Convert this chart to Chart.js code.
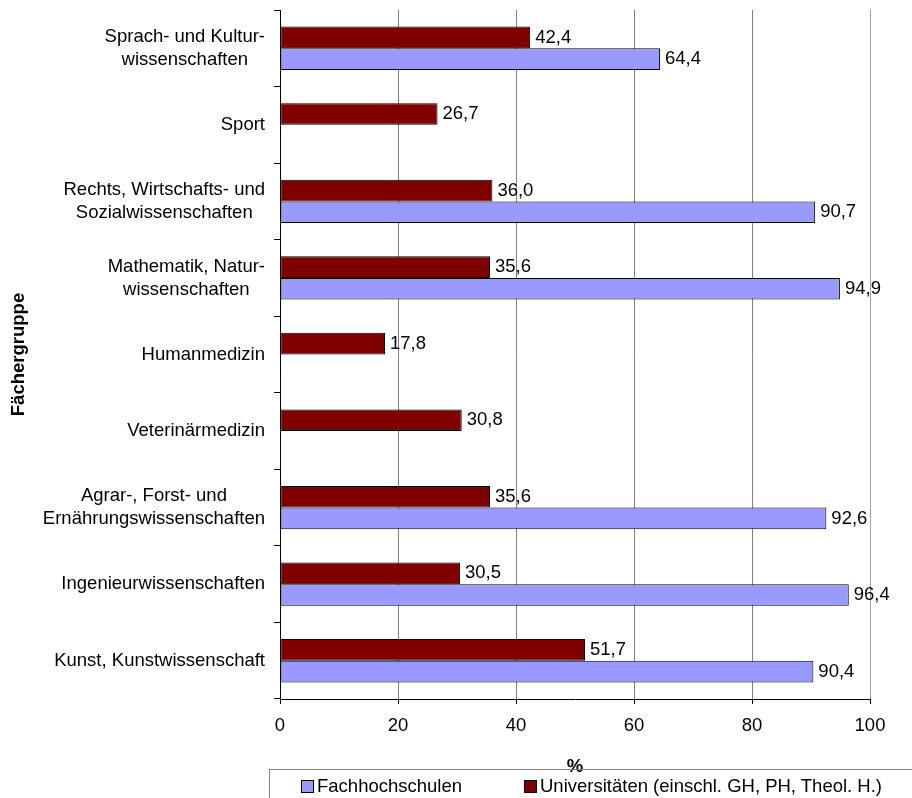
<!DOCTYPE html>
<html>
<head>
<meta charset="utf-8">
<script src="https://cdn.jsdelivr.net/npm/chart.js@4/dist/chart.umd.min.js"></script>
<style>
  html, body { margin: 0; padding: 0; background: #fff; overflow: hidden; }
  #wrap { position: relative; width: 912px; height: 798px; }
  #legend {
    position: absolute; left: 269px; top: 769px; width: 700px; height: 40px;
    border: 1px solid #808080; box-sizing: border-box;
    font: 18.5px "Liberation Sans", Arial, sans-serif; color: #000;
  }
  #legend .item { position: absolute; top: 6px; white-space: nowrap; line-height: 20px; }
  #legend .swatch {
    display: inline-block; width: 11px; height: 11px; border: 1px solid #000;
    vertical-align: -1px; margin-right: 3px;
  }
</style>
</head>
<body>
<div id="wrap">
  <canvas id="chart" width="912" height="798"></canvas>
  <div id="legend"></div>
</div>
<script>
const categories = [
  ["Sprach- und Kultur-", "wissenschaften"],
  ["Sport"],
  ["Rechts, Wirtschafts- und", "Sozialwissenschaften"],
  ["Mathematik, Natur-", "wissenschaften"],
  ["Humanmedizin"],
  ["Veterinärmedizin"],
  ["Agrar-, Forst- und", "Ernährungswissenschaften"],
  ["Ingenieurwissenschaften"],
  ["Kunst, Kunstwissenschaft"]
];
const universitaeten = [42.4, 26.7, 36.0, 35.6, 17.8, 30.8, 35.6, 30.5, 51.7];
const fachhochschulen = [64.4, null, 90.7, 94.9, null, null, 92.6, 96.4, 90.4];
const xTicks = [0, 20, 40, 60, 80, 100];

const FONT = '"Liberation Sans", Arial, sans-serif';
Chart.defaults.font.family = FONT;
Chart.defaults.font.size = 18.5;
Chart.defaults.color = "#000";

const fmt = (v) => v.toFixed(1).replace(".", ",");

const valueLabels = {
  id: "valueLabels",
  afterDatasetsDraw(chart) {
    const ctx = chart.ctx;
    ctx.save();
    ctx.font = "18.5px " + FONT;
    ctx.fillStyle = "#000";
    ctx.textAlign = "left";
    ctx.textBaseline = "middle";
    chart.data.datasets.forEach((ds, di) => {
      chart.getDatasetMeta(di).data.forEach((bar, i) => {
        const v = ds.data[i];
        if (v == null) return;
        ctx.fillText(fmt(v), bar.x + 5, bar.y);
      });
    });
    ctx.restore();
  }
};

// category labels: block right aligned, lines centred among themselves
const categoryLabels = {
  id: "categoryLabels",
  afterDraw(chart) {
    const ctx = chart.ctx;
    const y = chart.scales.y;
    ctx.save();
    ctx.font = "18.5px " + FONT;
    ctx.fillStyle = "#000";
    ctx.textAlign = "center";
    ctx.textBaseline = "middle";
    chart.data.labels.forEach((lines, i) => {
      const yc = y.getPixelForValue(i);
      const w = Math.max(...lines.map((l) => ctx.measureText(l).width));
      const cx = 265 - w / 2;
      lines.forEach((l, j) => {
        ctx.fillText(l, cx, yc + (j - (lines.length - 1) / 2) * 23);
      });
    });
    ctx.restore();
  }
};

new Chart(document.getElementById("chart"), {
  type: "bar",
  data: {
    labels: categories,
    datasets: [
      {
        label: "Universitäten (einschl. GH, PH, Theol. H.)",
        data: universitaeten,
        backgroundColor: "#800000",
        borderColor: "#000",
        borderWidth: 1,
        borderSkipped: false
      },
      {
        label: "Fachhochschulen",
        data: fachhochschulen,
        backgroundColor: "#9999ff",
        borderColor: "#000",
        borderWidth: 1,
        borderSkipped: false
      }
    ]
  },
  options: {
    indexAxis: "y",
    responsive: false,
    animation: false,
    categoryPercentage: 0.566,
    barPercentage: 1,
    layout: { padding: { top: 10, right: 42, left: 0, bottom: 16 } },
    plugins: {
      legend: { display: false },
      tooltip: { enabled: false }
    },
    scales: {
      x: {
        min: 0,
        max: 100,
        afterBuildTicks: (s) => { s.ticks = xTicks.map((v) => ({ value: v })); },
        afterFit: (s) => { s.height = 83; },
        ticks: { padding: 11, font: { size: 18.5 } },
        grid: {
          color: (c) => (c.tick && c.tick.value === 100 ? "#a0a0a0" : "#808080"),
          tickColor: "#000",
          tickLength: 5
        },
        border: { color: "#000" },
        title: {
          display: true,
          text: "%",
          font: { size: 18.5, weight: "bold" },
          padding: { top: 0, bottom: 4 }
        }
      },
      y: {
        afterFit: (s) => { s.width = 280; },
        ticks: { display: false },
        grid: { drawOnChartArea: false, tickLength: 6, color: "#000", offset: true },
        border: { color: "#000" },
        title: {
          display: true,
          text: "Fächergruppe",
          font: { size: 18.5, weight: "bold" },
          padding: { top: 8, bottom: 0 }
        }
      }
    }
  },
  plugins: [valueLabels, categoryLabels]
});

// legend: Fachhochschulen first, as in the original
const legendEl = document.getElementById("legend");
[
  { text: "Fachhochschulen", color: "#9999ff", left: 31 },
  { text: "Universitäten (einschl. GH, PH, Theol. H.)", color: "#800000", left: 254 }
].forEach((it) => {
  const d = document.createElement("div");
  d.className = "item";
  d.style.left = it.left + "px";
  d.innerHTML = '<span class="swatch" style="background:' + it.color + '"></span>' + it.text;
  legendEl.appendChild(d);
});
</script>
</body>
</html>
